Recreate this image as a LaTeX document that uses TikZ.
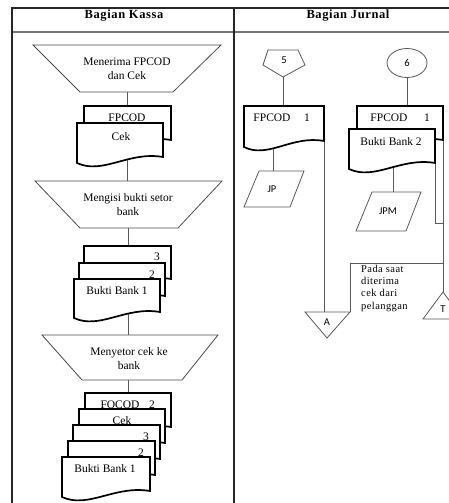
\documentclass[tikz,border=0pt]{standalone}
\usepackage{fontspec}
\setmainfont{Liberation Serif}
\newfontfamily\tagfont{Carlito}
\usetikzlibrary{shapes.geometric}

\tikzset{
  lanerule/.style={draw=black!85, line width=1.5pt},
  headrule/.style={draw=black!55, line width=1.2pt},
  manualop/.style={draw=black!70, line width=0.8pt, fill=white},
  docline/.style={draw=black, line width=1.7pt, fill=white, line join=miter},
  flow/.style={draw=black!65, line width=0.9pt},
  symbol/.style={draw=black!65, line width=0.8pt, fill=white},
  lanehead/.style={font=\bfseries\fontsize{12.5}{15}\selectfont\addfontfeature{LetterSpace=5}, inner sep=0},
  optext/.style={font=\fontsize{11.5}{14}\selectfont, align=center, inner sep=0},
  doctext/.style={font=\fontsize{11.5}{14}\selectfont, inner sep=0},
  tag/.style={font=\tagfont\fontsize{10.5}{12}\selectfont, inner sep=0},
  note/.style={font=\fontsize{10.5}{12.2}\selectfont\addfontfeature{LetterSpace=4}, align=left, inner sep=0, anchor=north west},
}

% document symbol: #1 name, #2 left, #3 top, #4 width, #5 height of left side
\newcommand\docsheet[5]{%
  \draw[docline] (#2,#3) coordinate (#1-nw) -- (#2+#4,#3) coordinate (#1-ne)
    -- (#2+#4,#3+#5-6) coordinate (#1-se)
    .. controls (#2+0.6*#4,#3+#5-12) and (#2+0.3*#4,#3+#5+12) .. (#2,#3+#5) coordinate (#1-sw)
    -- cycle;%
}

\begin{document}
\begin{tikzpicture}[x=1pt,y=-1pt]
\useasboundingbox (0,0) rectangle (449,503);
\clip (0,0) rectangle (449,503);

% ---------------- swimlanes ----------------
\draw[headrule] (12,32) -- (449,32);
\draw[lanerule] (12,503) -- (12,8) -- (449,8);
\draw[lanerule] (234,8) -- (234,503);
\node[lanehead] (kassa) at (124,16) {Bagian Kassa};
\node[lanehead] (jurnal) at (348,16) {Bagian Jurnal};

% ---------------- Bagian Kassa ----------------
% connection points
\coordinate (op1-s) at (127,92);
\coordinate (fp-n) at (127,106);
\coordinate (cek-s) at (127,160);
\coordinate (op2-n) at (127,181);
\coordinate (op2-s) at (128,228);
\coordinate (bb3-n) at (128,246);
\coordinate (bb1-s) at (128,314);
\coordinate (op3-n) at (128,335);
\coordinate (op3-s) at (128,380);
\coordinate (s1-n) at (128,393);

\draw[flow] (op1-s) -- (fp-n);
\draw[flow] (cek-s) -- (op2-n);
\draw[flow] (op2-s) -- (bb3-n);
\draw[flow] (bb1-s) -- (op3-n);
\draw[flow] (op3-s) -- (s1-n);

% receive FPCOD and cheque
\draw[manualop] (33,45) -- (221,45) -- (173,92) -- (80,92) -- cycle;
\node[optext] (op1) at (127,69) {Menerima FPCOD\\dan Cek};

\docsheet{fp}{84}{106}{87}{40}
\node[doctext] (fp-t) at (127,118) {FPCOD};
\docsheet{cek}{77}{123}{86}{40}
\node[doctext] (cek-t) at (121,137) {Cek};

% fill in deposit slip
\draw[manualop] (35,181) -- (222,181) -- (178,228) -- (80,228) -- cycle;
\node[optext] (op2) at (128,205) {Mengisi bukti setor\\bank};

\docsheet{bb3}{84}{246}{87}{39}
\node[doctext] (bb3-t) at (157,257) {3};
\docsheet{bb2}{79}{263}{86}{39}
\node[doctext] (bb2-t) at (152,275) {2};
\docsheet{bb1}{74}{279}{86}{39}
\node[doctext] (bb1-t) at (117,291) {Bukti Bank 1};

% deposit cheque to bank
\draw[manualop] (42,335) -- (218,335) -- (182,380) -- (82,380) -- cycle;
\node[optext] (op3) at (129,359) {Menyetor cek ke\\bank};

\docsheet{s1}{85}{393}{86}{40}
\node[doctext] (s1-t) at (120,405) {FOCOD};
\node[doctext] (s1-c) at (152,405) {2};
\docsheet{s2}{79}{409}{86}{40}
\node[doctext] (s2-t) at (122,421) {Cek};
\docsheet{s3}{73}{425}{87}{40}
\node[doctext] (s3-t) at (146,437) {3};
\docsheet{s4}{68}{441}{87}{40}
\node[doctext] (s4-t) at (141,453) {2};
\docsheet{s5}{62}{457}{88}{40}
\node[doctext] (s5-t) at (105,469) {Bukti Bank 1};

% ---------------- Bagian Jurnal ----------------
\coordinate (p5-s) at (283,77);
\coordinate (fpl-n) at (283,106);
\coordinate (fpl-s) at (273,149);
\coordinate (jp-n) at (273,171);
\coordinate (fpl-e) at (324,141);
\coordinate (ta-n) at (324,312);
\coordinate (fpr-n) at (407,106);
\coordinate (bbr-s) at (393,167);
\coordinate (jpm-n) at (393,192);
\coordinate (fpr-e) at (443,140);
\coordinate (tt-n) at (443,292);
\coordinate (bbr-e) at (435,163);
\coordinate (join) at (435,223);
\coordinate (join-r) at (443,223);
\coordinate (branch) at (443,263);
\coordinate (ta-e) at (350,312);

\draw[flow] (p5-s) -- (fpl-n);
\draw[flow] (fpl-s) -- (jp-n);
\draw[flow] (fpl-e) -- (ta-n);
\draw[flow] (bbr-s) -- (jpm-n);
\draw[flow] (fpr-e) -- (tt-n);
\draw[flow] (bbr-e) -- (join) -- (join-r);
\draw[flow] (branch) -- (350,263) -- (ta-e);

% off-page connector 5
\draw[symbol] (268,50) -- (298,50) -- (305,65) -- (283,77) -- (263,65) -- cycle;
\node[tag] (n5) at (284,60) {5};

\docsheet{fpl}{244}{106}{80}{41}
\node[doctext] (fpl-t) at (272,118) {FPCOD};
\node[doctext] (fpl-c) at (307,118) {1};

% journal JP
\draw[symbol] (259,171) -- (304,171) -- (290,207) -- (244,207) -- cycle;
\node[tag] (jp) at (272,189) {JP};

% connector 6
\node[symbol, ellipse, minimum width=40, minimum height=29, tag] (c6) at (407,63) {6};
\draw[flow] (c6.south) -- (fpr-n);

\docsheet{fpr}{357}{106}{86}{40}
\node[doctext] (fpr-t) at (389,118) {FPCOD};
\node[doctext] (fpr-c) at (427,118) {1};
\docsheet{bbr}{349}{129}{86}{40}
\node[doctext] (bbr-t) at (391,142) {Bukti Bank 2};

% journal JPM
\draw[symbol] (372,192) -- (421,192) -- (406,231) -- (356,231) -- cycle;
\node[tag] (jpm) at (388,211) {JPM};

% files A and T
\draw[symbol] (305,312) -- (350,312) -- (327,338) -- cycle;
\node[tag] (fa) at (327,322) {A};
\draw[symbol] (443,292) -- (463,319) -- (423,319) -- cycle;
\node[tag] (ft) at (443,309) {T};

\node[note] (np) at (361,265) {Pada saat\\diterima\\cek dari\\pelanggan};
\end{tikzpicture}
\end{document}
